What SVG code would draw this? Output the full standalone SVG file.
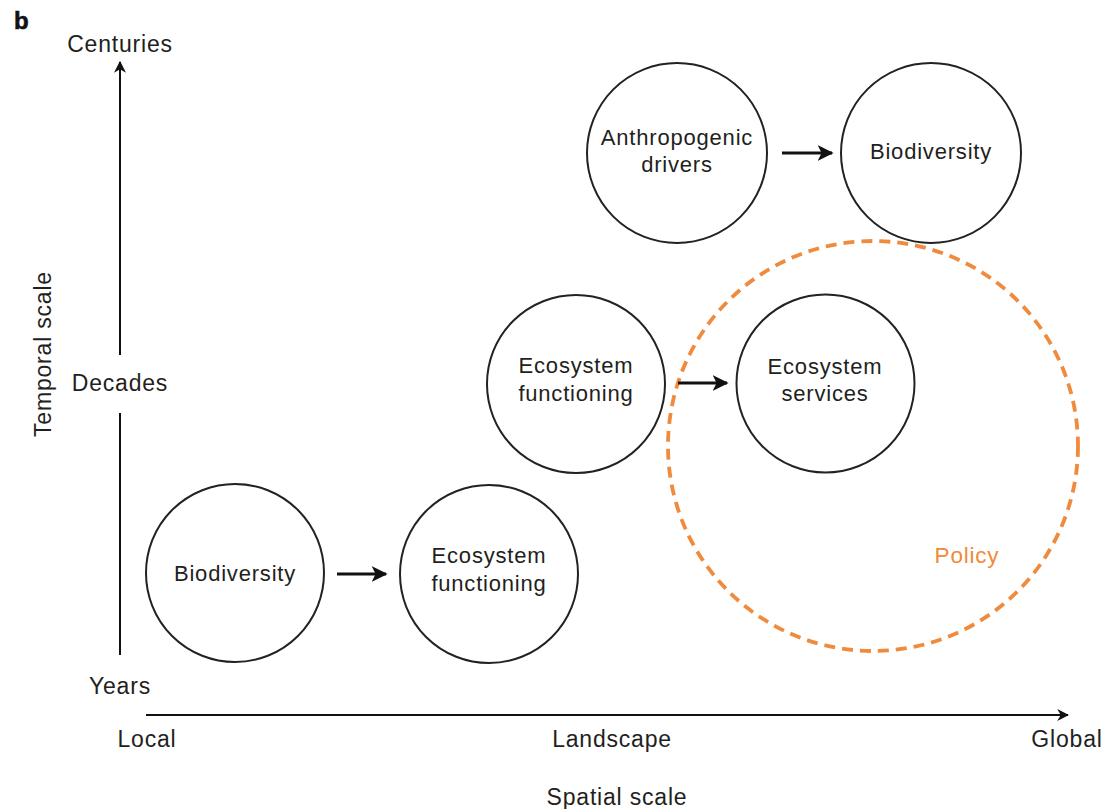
<svg xmlns="http://www.w3.org/2000/svg" width="1117" height="809" viewBox="0 0 1117 809">
  <style>
    .node { fill: none; stroke: #222; stroke-width: 2; }
    .lbl { font-family: "Liberation Sans", Arial, sans-serif; font-size: 22px; fill: #231f20; text-anchor: middle; letter-spacing: 0.8px; }
    .axis-lbl { font-family: "Liberation Sans", Arial, sans-serif; font-size: 23px; fill: #231f20; text-anchor: middle; letter-spacing: 0.8px; }
    .axis { stroke: #111; stroke-width: 2; fill: none; }
    .link { stroke: #111; stroke-width: 3.2; fill: none; }
    .policy { fill: none; stroke: #f08a3c; stroke-width: 3.8; stroke-dasharray: 11 7; }
  </style>
  <defs>
    <marker id="axisHead" viewBox="0 0 10 10" refX="9" refY="5" markerWidth="6" markerHeight="6" markerUnits="strokeWidth" orient="auto">
      <path d="M0,0 L10,5 L0,10 L3,5 Z" fill="#111"/>
    </marker>
    <marker id="linkHead" viewBox="0 0 10 10" refX="9" refY="5" markerWidth="5" markerHeight="5" markerUnits="strokeWidth" orient="auto">
      <path d="M0,0 L10,5 L0,10 L2.5,5 Z" fill="#111"/>
    </marker>
  </defs>
  <rect width="1117" height="809" fill="#fff"/>

  <!-- panel letter -->
  <text x="14" y="29" font-family="Liberation Sans, Arial, sans-serif" font-size="24" font-weight="bold" fill="#111" stroke="#111" stroke-width="0.6">b</text>

  <!-- axes -->
  <g id="axes">
    <line class="axis" x1="120" y1="655" x2="120" y2="413"/>
    <line class="axis" x1="120" y1="355" x2="120" y2="62" marker-end="url(#axisHead)"/>
    <line class="axis" x1="146" y1="715" x2="1068" y2="715" marker-end="url(#axisHead)"/>
    <text class="axis-lbl" x="120" y="52">Centuries</text>
    <text class="axis-lbl" x="120" y="391">Decades</text>
    <text class="axis-lbl" x="120" y="694">Years</text>
    <text class="axis-lbl" x="147" y="747">Local</text>
    <text class="axis-lbl" x="612" y="747">Landscape</text>
    <text class="axis-lbl" x="1067" y="747">Global</text>
    <text class="axis-lbl" x="617" y="805">Spatial scale</text>
    <text class="axis-lbl" transform="translate(51,354) rotate(-90)">Temporal scale</text>
  </g>

  <!-- policy zone -->
  <g id="policy">
    <circle class="policy" cx="873" cy="446" r="205"/>
    <text x="967" y="563" font-family="Liberation Sans, Arial, sans-serif" font-size="22.5" letter-spacing="0.8" fill="#f08a3c" text-anchor="middle">Policy</text>
  </g>

  <!-- nodes -->
  <g id="biodiversity-local">
    <circle class="node" cx="235" cy="573" r="89"/>
    <text class="lbl" x="235" y="581">Biodiversity</text>
  </g>
  <g id="functioning-local">
    <circle class="node" cx="489" cy="574" r="89"/>
    <text class="lbl" x="489" y="563">Ecosystem</text>
    <text class="lbl" x="489" y="591">functioning</text>
  </g>
  <g id="functioning-landscape">
    <circle class="node" cx="576" cy="384" r="89"/>
    <text class="lbl" x="576" y="373">Ecosystem</text>
    <text class="lbl" x="576" y="401">functioning</text>
  </g>
  <g id="services">
    <circle class="node" cx="825.5" cy="383.5" r="89"/>
    <text class="lbl" x="825" y="374">Ecosystem</text>
    <text class="lbl" x="825" y="401">services</text>
  </g>
  <g id="drivers">
    <circle class="node" cx="677" cy="153" r="90"/>
    <text class="lbl" x="677" y="145">Anthropogenic</text>
    <text class="lbl" x="677" y="172">drivers</text>
  </g>
  <g id="biodiversity-global">
    <circle class="node" cx="931" cy="153" r="90"/>
    <text class="lbl" x="931" y="159">Biodiversity</text>
  </g>

  <!-- connectors -->
  <g id="connectors">
    <line class="link" x1="337" y1="574" x2="386" y2="574" marker-end="url(#linkHead)"/>
    <line class="link" x1="678" y1="383" x2="727" y2="383" marker-end="url(#linkHead)"/>
    <line class="link" x1="782" y1="153" x2="832" y2="153" marker-end="url(#linkHead)"/>
  </g>
</svg>
